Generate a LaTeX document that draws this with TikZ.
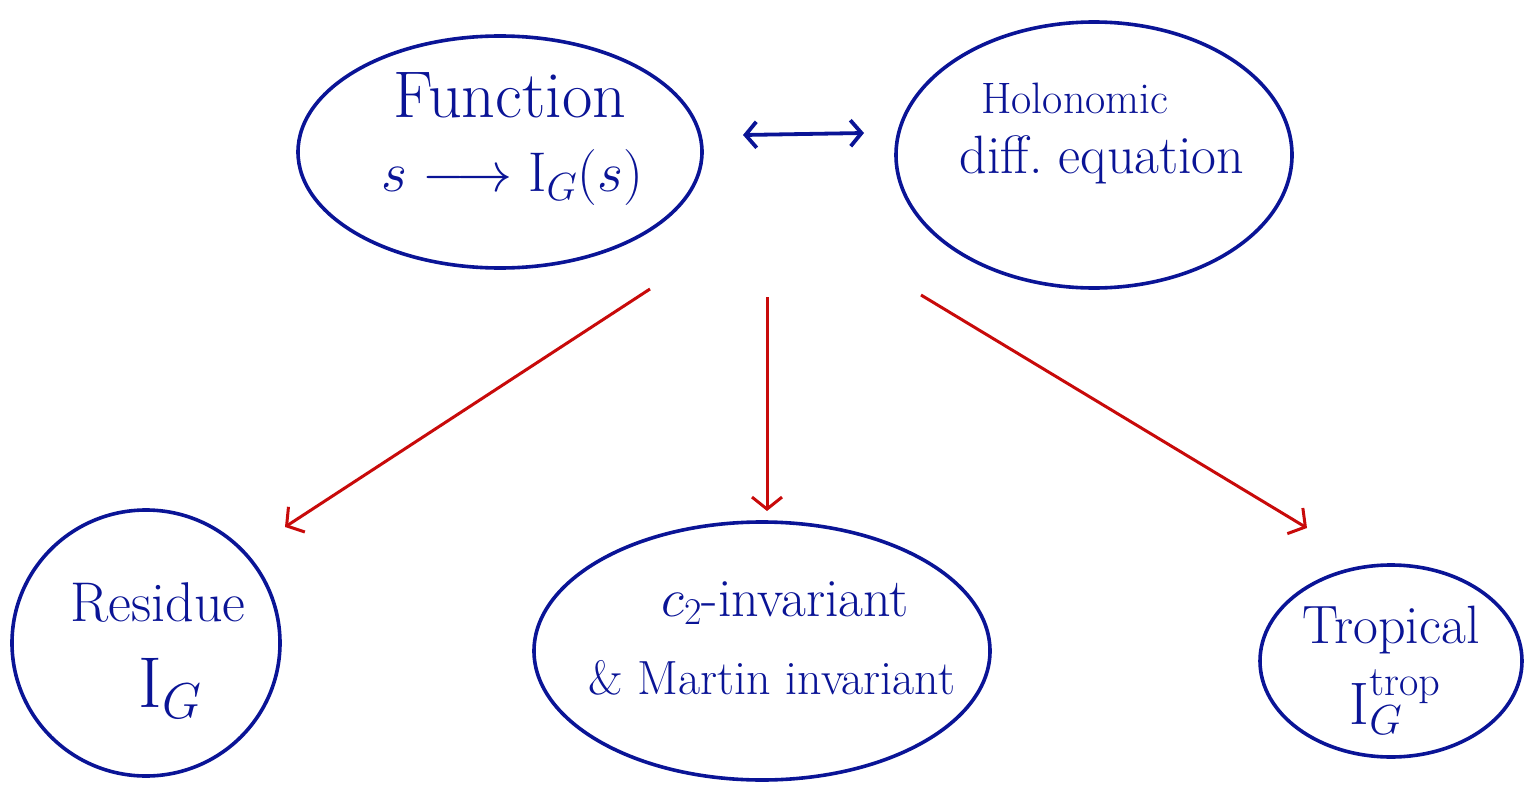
\RequirePackage{fix-cm}
\documentclass[tikz,border=0pt]{standalone}
\usetikzlibrary{shapes.geometric,arrows.meta}
\definecolor{inkblue}{RGB}{10,20,150}
\definecolor{inkred}{RGB}{200,10,10}
\newcommand{\fsz}[1]{\fontsize{#1}{#1}\selectfont}
\begin{document}
\begin{tikzpicture}[x=1pt,y=-1pt,
  bubble/.style={draw=inkblue,line width=3.6pt,ellipse,inner sep=0pt},
  lbl/.style={text=inkblue,inner sep=0pt,align=center},
  redarrow/.style={draw=inkred,line width=3pt,-{Straight Barb[length=12pt,width=30pt,line width=3pt]}},
  bluearrow/.style={draw=inkblue,line width=3.8pt,{Straight Barb[length=11pt,width=26pt]}-{Straight Barb[length=11pt,width=26pt]}}]
\useasboundingbox (0,0) rectangle (1527,787);
% ellipses
\node[bubble,minimum width=404pt,minimum height=232pt] (fn) at (500,152) {};
\node[bubble,minimum width=396pt,minimum height=266pt] (hol) at (1094,155) {};
\node[bubble,minimum width=268pt,minimum height=266pt] (res) at (146,643) {};
\node[bubble,minimum width=456pt,minimum height=258pt] (ctwo) at (762,651) {};
\node[bubble,minimum width=262pt,minimum height=192pt] (trop) at (1391,661) {};
% labels
\node[lbl,font=\fsz{66}] (fnA) at (510,95) {Function};
\node[lbl,font=\fsz{56}] (fnB) at (512,178) {$s \longrightarrow \mathrm{I}_G(s)$};
\node[lbl,font=\fsz{44}] (holA) at (1075,98) {Holonomic};
\node[lbl,font=\fsz{54}] (holB) at (1102,160) {diff.\ equation};
\node[lbl,font=\fsz{56}] (resA) at (158,603) {Residue};
\node[lbl,font=\fsz{72}] (resB) at (170,688) {$\mathrm{I}_G$};
\node[lbl,font=\fsz{54}] (ctwoA) at (785,603) {$c_2$-invariant};
\node[lbl,font=\fsz{48}] (ctwoB) at (772,678) {\& Martin invariant};
\node[lbl,font=\fsz{54}] (tropA) at (1391,630) {Tropical};
\node[lbl,font=\fsz{60}] (tropB) at (1395,702) {$\mathrm{I}_G^{\mathrm{trop}}$};
% connector end points
\coordinate (dl) at (743,135);
\coordinate (dr) at (864,133);
\coordinate (s1) at (650,289);
\coordinate (e1) at (285,527);
\coordinate (s2) at (767,297);
\coordinate (e2) at (767,511);
\coordinate (s3) at (921,295);
\coordinate (e3) at (1307,528);
\draw[bluearrow] (dl) -- (dr);
\draw[redarrow] (s1) -- (e1);
\draw[redarrow] (s2) -- (e2);
\draw[redarrow] (s3) -- (e3);
\end{tikzpicture}
\end{document}
